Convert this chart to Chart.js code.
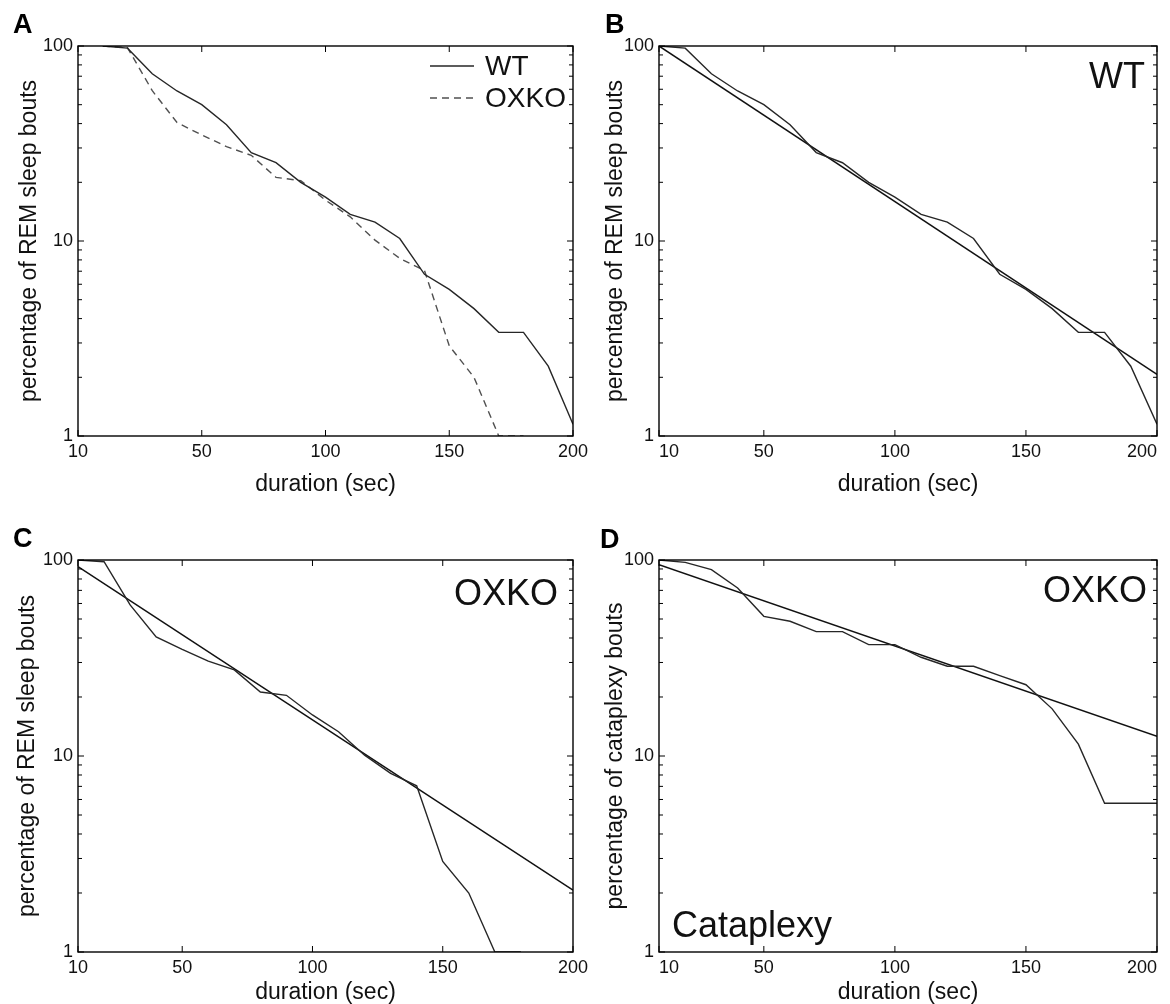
<!DOCTYPE html>
<html>
<head>
<meta charset="utf-8">
<script src="https://cdn.jsdelivr.net/npm/chart.js@4.4.1/dist/chart.umd.min.js"></script>
<style>
  html, body { margin: 0; padding: 0; background: #fff; }
  #fig { position: relative; width: 1170px; height: 1004px; overflow: hidden; }
  canvas { position: absolute; }
</style>
</head>
<body>
<div id="fig">
  <canvas id="panelA" width="600" height="500" style="left:0;top:0"></canvas>
  <canvas id="panelB" width="585" height="500" style="left:585px;top:0"></canvas>
  <canvas id="panelC" width="600" height="504" style="left:0;top:500px"></canvas>
  <canvas id="panelD" width="585" height="504" style="left:585px;top:500px"></canvas>
</div>
<script>
// bout duration bins (sec)
const durations = [10, 20, 30, 40, 50, 60, 70, 80, 90, 100, 110, 120, 130, 140, 150, 160, 170, 180, 190, 200];

// survival curves, % of bouts lasting at least that long
const wtRem = [100, 97.5, 72, 58.8, 50, 39.5, 28.4, 25.2, 20, 16.8, 13.7, 12.5, 10.3, 6.75, 5.65, 4.5, 3.4, 3.4, 2.28, 1.15];
const oxkoRem = [100, 98, 59, 40.5, 35, 30.5, 27.5, 21.2, 20.4, 16.2, 13.3, 10.1, 8.15, 7.05, 2.9, 2.0, 1.0, 1.0];
const oxkoCataplexy = [100, 97.3, 89.3, 72, 51.6, 48.7, 43.1, 43.1, 37, 37, 31.9, 28.7, 28.7, 25.7, 23.1, 17.4, 11.5, 5.74, 5.74, 5.74];

// exponential fits (end points)
const fitEnds = [10, 200];
const wtRemFit = [100, 2.07];
const oxkoRemFit = [92.5, 2.07];
const oxkoCataplexyFit = [94.7, 12.6];

// axes
const xTickValuesA = [0, 50, 100, 150, 200];
const xTickValues = [10, 50, 100, 150, 200];
const xTickLabels = ['10', '50', '100', '150', '200'];
const yTickValues = [1, 2, 3, 4, 5, 6, 7, 8, 9, 10, 20, 30, 40, 50, 60, 70, 80, 90, 100];
const yTickLabels = [1, 10, 100];

const FONT = "'Liberation Sans', Arial, Helvetica, sans-serif";
const INK = '#111';

function points(xs, ys) {
  return ys.map((y, i) => ({ x: xs[i], y: y }));
}

function curve(label, xs, ys, extra) {
  return Object.assign({
    label: label,
    data: points(xs, ys),
    borderColor: '#262626',
    borderWidth: 1.4,
    pointRadius: 0,
    tension: 0,
    fill: false
  }, extra || {});
}

const panelDecor = {
  id: 'panelDecor',
  afterDraw(chart, args, o) {
    const { ctx, chartArea: a, scales } = chart;
    ctx.save();

    // axis box
    ctx.strokeStyle = '#000';
    ctx.lineWidth = 1.4;
    ctx.strokeRect(a.left, a.top, a.right - a.left, a.bottom - a.top);

    // inward ticks on all four sides
    ctx.lineWidth = 1;
    ctx.beginPath();
    scales.x.ticks.forEach(t => {
      const px = scales.x.getPixelForValue(t.value);
      ctx.moveTo(px, a.bottom); ctx.lineTo(px, a.bottom - 6);
      ctx.moveTo(px, a.top); ctx.lineTo(px, a.top + 6);
    });
    scales.y.ticks.forEach(t => {
      const py = scales.y.getPixelForValue(t.value);
      const len = yTickLabels.includes(t.value) ? 6 : 4;
      ctx.moveTo(a.left, py); ctx.lineTo(a.left + len, py);
      ctx.moveTo(a.right, py); ctx.lineTo(a.right - len, py);
    });
    ctx.stroke();

    ctx.fillStyle = INK;
    ctx.textBaseline = 'alphabetic';

    // big labels inside the axes
    (o.notes || []).forEach(n => {
      ctx.font = n.size + 'px ' + FONT;
      ctx.textAlign = n.align;
      const x = n.align === 'right' ? a.right - n.dx : a.left + n.dx;
      const y = n.fromTop != null ? a.top + n.fromTop : a.bottom - n.fromBottom;
      ctx.fillText(n.text, x, y);
    });

    // legend (panel A)
    if (o.legend) {
      chart.data.datasets.forEach((ds, i) => {
        const y = a.top + 20 + i * 32;
        ctx.strokeStyle = ds.borderColor;
        ctx.lineWidth = ds.borderWidth;
        ctx.setLineDash(ds.borderDash || []);
        ctx.beginPath();
        ctx.moveTo(a.right - 143, y);
        ctx.lineTo(a.right - 99, y);
        ctx.stroke();
        ctx.setLineDash([]);
        ctx.font = '28px ' + FONT;
        ctx.textAlign = 'left';
        ctx.textBaseline = 'middle';
        ctx.fillText(ds.label, a.right - 88, y + 1);
      });
    }

    // panel letter
    ctx.font = 'bold 27px ' + FONT;
    ctx.textAlign = 'left';
    ctx.textBaseline = 'alphabetic';
    ctx.fillStyle = '#000';
    ctx.fillText(o.letter, o.letterX, o.letterY);

    ctx.restore();
  }
};

function makePanel(id, p) {
  return new Chart(document.getElementById(id), {
    type: 'line',
    data: { datasets: p.datasets },
    options: {
      responsive: false,
      animation: false,
      devicePixelRatio: 1,
      layout: { padding: p.padding },
      plugins: {
        legend: { display: false },
        tooltip: { enabled: false },
        panelDecor: p.decor
      },
      scales: {
        x: {
          type: 'linear',
          min: p.xTicks[0],
          max: 200,
          afterBuildTicks: s => { s.ticks = p.xTicks.map(v => ({ value: v })); },
          afterFit: s => { s.height = p.xHeight; s.paddingLeft = 0; s.paddingRight = 0; },
          grid: { display: false, drawTicks: false },
          border: { display: false },
          ticks: {
            autoSkip: false, maxRotation: 0, padding: 5, color: INK,
            align: p.xTickAlign,
            font: { family: FONT, size: 18 },
            callback: (v, i) => xTickLabels[i]
          },
          title: {
            display: true, text: 'duration (sec)', color: INK,
            font: { family: FONT, size: 23, lineHeight: 1 },
            padding: { top: 0, bottom: p.xTitlePad }
          }
        },
        y: {
          type: 'logarithmic',
          min: 1,
          max: 100,
          afterBuildTicks: s => { s.ticks = yTickValues.map(v => ({ value: v })); },
          afterFit: s => { s.width = p.yWidth; s.paddingTop = 0; s.paddingBottom = 0; },
          grid: { display: false, drawTicks: false },
          border: { display: false },
          ticks: {
            autoSkip: false, padding: 5, color: INK,
            font: { family: FONT, size: 18 },
            callback: v => yTickLabels.includes(v) ? String(v) : ''
          },
          title: {
            display: true, text: p.yTitle, color: INK,
            font: { family: FONT, size: 23, lineHeight: 1 },
            padding: { top: p.yTitlePad, bottom: 0 }
          }
        }
      }
    },
    plugins: [panelDecor]
  });
}

const remTitle = 'percentage of REM sleep bouts';

makePanel('panelA', {
  datasets: [
    curve('WT', durations, wtRem),
    curve('OXKO', durations, oxkoRem, { borderColor: '#505050', borderDash: [7, 5] })
  ],
  xTicks: xTickValuesA, xTickAlign: 'center',
  padding: { left: 0, top: 46, right: 27, bottom: 0 },
  yWidth: 78, xHeight: 64, yTitlePad: 18.5, xTitlePad: 4,
  yTitle: remTitle,
  decor: { letter: 'A', letterX: 13, letterY: 33, legend: true }
});

makePanel('panelB', {
  datasets: [
    curve('WT', durations, wtRem),
    curve('WT fit', fitEnds, wtRemFit, { borderColor: '#111', borderWidth: 1.5 })
  ],
  xTicks: xTickValues, xTickAlign: 'inner',
  padding: { left: 0, top: 46, right: 13, bottom: 0 },
  yWidth: 74, xHeight: 64, yTitlePad: 19.5, xTitlePad: 4,
  yTitle: remTitle,
  decor: { letter: 'B', letterX: 20, letterY: 33,
    notes: [{ text: 'WT', size: 36, align: 'right', dx: 12, fromTop: 42 }] }
});

makePanel('panelC', {
  datasets: [
    curve('OXKO', durations, oxkoRem),
    curve('OXKO fit', fitEnds, oxkoRemFit, { borderColor: '#111', borderWidth: 1.5 })
  ],
  xTicks: xTickValues, xTickAlign: 'center',
  padding: { left: 0, top: 60, right: 27, bottom: 0 },
  yWidth: 78, xHeight: 52, yTitlePad: 16, xTitlePad: 0,
  yTitle: remTitle,
  decor: { letter: 'C', letterX: 13, letterY: 47,
    notes: [{ text: 'OXKO', size: 36, align: 'right', dx: 15, fromTop: 45 }] }
});

makePanel('panelD', {
  datasets: [
    curve('OXKO cataplexy', durations, oxkoCataplexy),
    curve('OXKO cataplexy fit', fitEnds, oxkoCataplexyFit, { borderColor: '#111', borderWidth: 1.5 })
  ],
  xTicks: xTickValues, xTickAlign: 'inner',
  padding: { left: 0, top: 60, right: 13, bottom: 0 },
  yWidth: 74, xHeight: 52, yTitlePad: 19.5, xTitlePad: 0,
  yTitle: 'percentage of cataplexy bouts',
  decor: { letter: 'D', letterX: 15, letterY: 48,
    notes: [
      { text: 'OXKO', size: 36, align: 'right', dx: 10, fromTop: 42 },
      { text: 'Cataplexy', size: 36, align: 'left', dx: 13, fromBottom: 15 }
    ] }
});
</script>
</body>
</html>
